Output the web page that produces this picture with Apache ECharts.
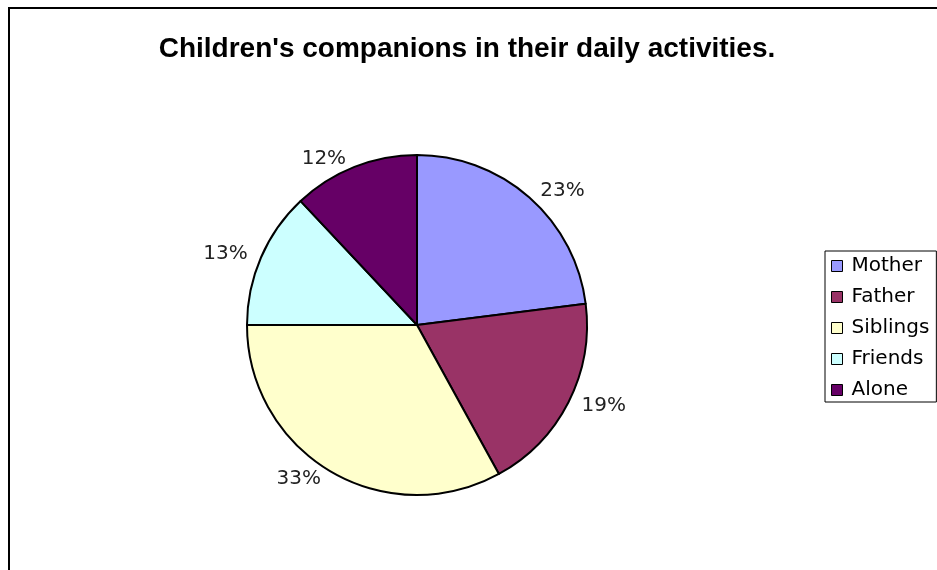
<!DOCTYPE html>
<html><head><meta charset="utf-8">
<script src="https://cdn.jsdelivr.net/npm/echarts@6/dist/echarts.min.js"></script>
<style>html,body{margin:0;padding:0;background:#fff}#c{width:937px;height:570px}</style>
</head><body><div id="c"></div>
<script>
const titleText = "Children's companions in their daily activities.";
const categories = ["Mother", "Father", "Siblings", "Friends", "Alone"];
const values = [23, 19, 33, 13, 12];
const colors = ["#9999FF", "#993366", "#FFFFCC", "#CCFFFF", "#660066"];

const chart = echarts.init(document.getElementById('c'));
chart.setOption({
  animation: false,
  backgroundColor: '#fff',
  graphic: [{
    type: 'rect', shape: {x: 9, y: 8, width: 1200, height: 1200},
    style: {fill: 'none', stroke: '#000', lineWidth: 2}, silent: true, z: 100
  }],
  title: {
    text: titleText, left: 462, top: 30, textAlign: 'center',
    textStyle: {fontFamily: 'Liberation Sans, Arial', fontWeight: 'bold', fontSize: 28, color: '#000'}
  },
  legend: {
    orient: 'vertical', left: 825, top: 251,
    padding: [5, 7, 2, 6],
    backgroundColor: '#fff', borderColor: '#000', borderWidth: 1,
    icon: 'rect', itemWidth: 11, itemHeight: 11, itemGap: 11,
    textStyle: {fontFamily: 'DejaVu Sans, Verdana', fontSize: 20, color: '#000', padding: [0,0,0,4]},
    itemStyle: {borderColor: '#000', borderWidth: 1},
    data: categories
  },
  series: [{
    type: 'pie', center: [417, 325], radius: 170, startAngle: 90, clockwise: true,
    data: categories.map((n, i) => ({name: n, value: values[i], itemStyle: {color: colors[i]}})),
    itemStyle: {borderColor: '#000', borderWidth: 2},
    label: {show: true, position: 'outside', formatter: '{d}%',
      fontFamily: 'DejaVu Sans, Verdana', fontSize: 20, color: '#222'},
    labelLine: {show: false, length: 9, length2: 0},
    emphasis: {disabled: true}
  }]
});
</script></body></html>
